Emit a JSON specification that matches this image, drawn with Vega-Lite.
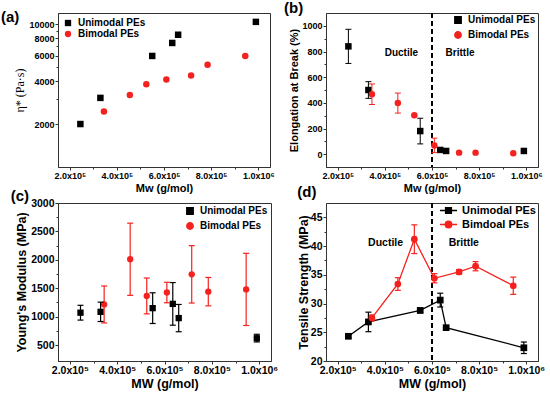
{
  "$schema": "https://vega.github.io/schema/vega-lite/v6.json",
  "background": "white",
  "padding": {"left": 0, "top": 0, "right": 4, "bottom": 2},
  "datasets": {
    "visc": [
      {"mw": 245000, "val": 2000, "type": "Unimodal PEs"},
      {"mw": 330000, "val": 3050, "type": "Unimodal PEs"},
      {"mw": 550000, "val": 6000, "type": "Unimodal PEs"},
      {"mw": 635000, "val": 7400, "type": "Unimodal PEs"},
      {"mw": 660000, "val": 8450, "type": "Unimodal PEs"},
      {"mw": 990000, "val": 10400, "type": "Unimodal PEs"},
      {"mw": 345000, "val": 2450, "type": "Bimodal PEs"},
      {"mw": 455000, "val": 3200, "type": "Bimodal PEs"},
      {"mw": 525000, "val": 3800, "type": "Bimodal PEs"},
      {"mw": 610000, "val": 4100, "type": "Bimodal PEs"},
      {"mw": 715000, "val": 4370, "type": "Bimodal PEs"},
      {"mw": 785000, "val": 5200, "type": "Bimodal PEs"},
      {"mw": 945000, "val": 6000, "type": "Bimodal PEs"}
    ],
    "elong": [
      {"mw": 245000, "val": 840, "lo": 707, "hi": 973, "type": "Unimodal PEs"},
      {"mw": 330000, "val": 500, "lo": 435, "hi": 565, "type": "Unimodal PEs"},
      {"mw": 550000, "val": 180, "lo": 80, "hi": 280, "type": "Unimodal PEs"},
      {"mw": 635000, "val": 33, "lo": null, "hi": null, "type": "Unimodal PEs"},
      {"mw": 660000, "val": 25, "lo": null, "hi": null, "type": "Unimodal PEs"},
      {"mw": 990000, "val": 25, "lo": null, "hi": null, "type": "Unimodal PEs"},
      {"mw": 345000, "val": 467, "lo": 387, "hi": 547, "type": "Bimodal PEs"},
      {"mw": 455000, "val": 398, "lo": 320, "hi": 476, "type": "Bimodal PEs"},
      {"mw": 525000, "val": 303, "lo": null, "hi": null, "type": "Bimodal PEs"},
      {"mw": 610000, "val": 68, "lo": 12, "hi": 125, "type": "Bimodal PEs"},
      {"mw": 715000, "val": 12, "lo": null, "hi": null, "type": "Bimodal PEs"},
      {"mw": 785000, "val": 12, "lo": null, "hi": null, "type": "Bimodal PEs"},
      {"mw": 945000, "val": 8, "lo": null, "hi": null, "type": "Bimodal PEs"}
    ],
    "modulus": [
      {"mw": 245000, "val": 1070, "lo": 940, "hi": 1200, "type": "Unimodal PEs"},
      {"mw": 330000, "val": 1085, "lo": 915, "hi": 1255, "type": "Unimodal PEs"},
      {"mw": 550000, "val": 1150, "lo": 880, "hi": 1420, "type": "Unimodal PEs"},
      {"mw": 635000, "val": 1225, "lo": 850, "hi": 1600, "type": "Unimodal PEs"},
      {"mw": 660000, "val": 975, "lo": 735, "hi": 1215, "type": "Unimodal PEs"},
      {"mw": 990000, "val": 620, "lo": 555, "hi": 690, "type": "Unimodal PEs"},
      {"mw": 345000, "val": 1215, "lo": 890, "hi": 1540, "type": "Bimodal PEs"},
      {"mw": 455000, "val": 2010, "lo": 1375, "hi": 2645, "type": "Bimodal PEs"},
      {"mw": 525000, "val": 1365, "lo": 1050, "hi": 1680, "type": "Bimodal PEs"},
      {"mw": 610000, "val": 1425, "lo": 1245, "hi": 1605, "type": "Bimodal PEs"},
      {"mw": 715000, "val": 1745, "lo": 1240, "hi": 2250, "type": "Bimodal PEs"},
      {"mw": 785000, "val": 1440, "lo": 1190, "hi": 1690, "type": "Bimodal PEs"},
      {"mw": 945000, "val": 1480, "lo": 845, "hi": 2115, "type": "Bimodal PEs"}
    ],
    "tensile": [
      {"mw": 245000, "val": 24.3, "lo": 24.0, "hi": 24.6, "type": "Unimodal PEs"},
      {"mw": 330000, "val": 26.8, "lo": 25.1, "hi": 28.5, "type": "Unimodal PEs"},
      {"mw": 550000, "val": 28.8, "lo": 28.4, "hi": 29.2, "type": "Unimodal PEs"},
      {"mw": 635000, "val": 30.6, "lo": 29.4, "hi": 31.8, "type": "Unimodal PEs"},
      {"mw": 660000, "val": 25.8, "lo": null, "hi": null, "type": "Unimodal PEs"},
      {"mw": 990000, "val": 22.3, "lo": 21.3, "hi": 23.3, "type": "Unimodal PEs"},
      {"mw": 345000, "val": 27.5, "lo": 27.0, "hi": 28.0, "type": "Bimdoal PEs"},
      {"mw": 455000, "val": 33.4, "lo": 32.3, "hi": 34.5, "type": "Bimdoal PEs"},
      {"mw": 525000, "val": 41.2, "lo": 38.7, "hi": 43.7, "type": "Bimdoal PEs"},
      {"mw": 610000, "val": 34.4, "lo": 33.6, "hi": 35.2, "type": "Bimdoal PEs"},
      {"mw": 715000, "val": 35.5, "lo": 35.1, "hi": 35.9, "type": "Bimdoal PEs"},
      {"mw": 785000, "val": 36.5, "lo": 35.7, "hi": 37.3, "type": "Bimdoal PEs"},
      {"mw": 945000, "val": 33.1, "lo": 31.6, "hi": 34.6, "type": "Bimdoal PEs"}
    ],
    "notes_b": [
      {"label": "Ductile", "mw": 470000, "val": 790},
      {"label": "Brittle", "mw": 719000, "val": 790}
    ],
    "notes_d": [
      {"label": "Ductile", "mw": 403000, "val": 40.6},
      {"label": "Brittle", "mw": 735000, "val": 40.6}
    ]
  },
  "columns": 2,
  "spacing": {"row": -10, "column": 4},
  "concat": [
    {
      "width": 212, "height": 154,
      "title": {"text": "(a)", "anchor": "start", "frame": "bounds", "offset": -12, "dx": -13},
      "layer": [
        {"layer": [
          {"data": {"name": "visc"},
           "mark": {"type": "point", "filled": true, "opacity": 1, "size": 42},
           "encoding": {
             "x": {"field": "mw", "type": "quantitative", "scale": {"domain": [150000, 1050000], "nice": false, "zero": false},
                   "axis": {"values": [200000, 400000, 600000, 800000, 1000000], "tickCount": 20, "labelExpr": "datum.value >= 1000000 ? '1.0x10⁶' : format(datum.value / 100000, '.1f') + 'x10⁵'", "title": "Mw (g/mol)", "labelFontSize": 9, "titleFontSize": 11}},
             "y": {"field": "val", "type": "quantitative", "scale": {"type": "log", "domain": [1000, 12000], "nice": false},
                   "axis": {"values": [2000, 4000, 6000, 8000, 10000], "tickCount": 20, "format": "d", "title": "η* (Pa·s)", "titleFont": "Liberation Serif", "titleFontWeight": "normal", "titleFontSize": 12, "labelFontSize": 9}},
             "color": {"field": "type", "type": "nominal", "scale": {"domain": ["Unimodal PEs", "Bimodal PEs"], "range": ["black", "#f4221f"]},
                       "legend": {"title": null, "orient": "top-left", "offset": 5, "labelFontSize": 10}},
             "shape": {"field": "type", "type": "nominal", "scale": {"domain": ["Unimodal PEs", "Bimodal PEs"], "range": ["square", "circle"]},
                       "legend": {"title": null, "orient": "top-left", "offset": 5, "labelFontSize": 10}}
           }}
        ]},
        {"data": {"name": "visc"}, "mark": {"type": "point", "opacity": 0},
         "encoding": {
           "x": {"field": "mw", "type": "quantitative", "axis": {"orient": "bottom", "values": [300000, 500000, 700000, 900000], "tickCount": 20, "labels": false, "domain": false, "tickSize": 2, "title": null}},
           "y": {"field": "val", "type": "quantitative", "axis": {"orient": "left", "values": [3000, 5000, 7000, 9000], "tickCount": 20, "labels": false, "domain": false, "tickSize": 2, "title": null}}
         }}
      ],
      "resolve": {"axis": {"x": "independent", "y": "independent"}}
    },
    {
      "width": 212, "height": 154,
      "title": {"text": "(b)", "anchor": "start", "frame": "bounds", "offset": -4, "dx": -5},
      "layer": [
        {"layer": [
          {"data": {"name": "elong"}, "mark": {"type": "rule", "color": "black", "strokeDash": [5, 3], "strokeWidth": 1.3},
           "encoding": {"x": {"datum": 600000}}},
          {"data": {"name": "notes_b"}, "mark": {"type": "text", "font": "Liberation Sans", "fontWeight": "bold", "fontSize": 10, "color": "black"},
           "encoding": {"x": {"field": "mw", "type": "quantitative"}, "y": {"field": "val", "type": "quantitative"}, "text": {"field": "label"}}},
          {"data": {"name": "elong"},
           "mark": {"type": "point", "filled": true, "opacity": 1, "size": 42},
           "encoding": {
             "x": {"field": "mw", "type": "quantitative", "scale": {"domain": [150000, 1050000], "nice": false, "zero": false},
                   "axis": {"values": [200000, 400000, 600000, 800000, 1000000], "tickCount": 20, "labelExpr": "datum.value >= 1000000 ? '1.0x10⁶' : format(datum.value / 100000, '.1f') + 'x10⁵'", "title": "Mw (g/mol)", "labelFontSize": 9, "titleFontSize": 11}},
             "y": {"field": "val", "type": "quantitative", "scale": {"domain": [-100, 1100], "nice": false, "zero": false},
                   "axis": {"values": [0, 200, 400, 600, 800, 1000], "tickCount": 20, "format": "d", "title": "Elongation at Break (%)", "titleFontSize": 11, "labelFontSize": 9}},
             "color": {"field": "type", "type": "nominal", "scale": {"domain": ["Unimodal PEs", "Bimodal PEs"], "range": ["black", "#f4221f"]},
                       "legend": {"title": null, "orient": "top-right", "offset": 2, "labelFontSize": 10}},
             "shape": {"field": "type", "type": "nominal", "scale": {"domain": ["Unimodal PEs", "Bimodal PEs"], "range": ["square", "circle"]},
                       "legend": {"title": null, "orient": "top-right", "offset": 2, "labelFontSize": 10}}
           }},
          {"data": {"name": "elong"}, "mark": {"type": "rule", "strokeWidth": 1, "opacity": 1},
           "encoding": {"x": {"field": "mw", "type": "quantitative"}, "y": {"field": "lo", "type": "quantitative"}, "y2": {"field": "hi"}, "color": {"field": "type", "type": "nominal"}}},
          {"data": {"name": "elong"}, "mark": {"type": "tick", "orient": "horizontal", "size": 6, "thickness": 1, "opacity": 1},
           "encoding": {"x": {"field": "mw", "type": "quantitative"}, "y": {"field": "lo", "type": "quantitative"}, "color": {"field": "type", "type": "nominal"}}},
          {"data": {"name": "elong"}, "mark": {"type": "tick", "orient": "horizontal", "size": 6, "thickness": 1, "opacity": 1},
           "encoding": {"x": {"field": "mw", "type": "quantitative"}, "y": {"field": "hi", "type": "quantitative"}, "color": {"field": "type", "type": "nominal"}}}
        ]},
        {"data": {"name": "elong"}, "mark": {"type": "point", "opacity": 0},
         "encoding": {
           "x": {"field": "mw", "type": "quantitative", "axis": {"orient": "bottom", "values": [300000, 500000, 700000, 900000], "tickCount": 20, "labels": false, "domain": false, "tickSize": 2, "title": null}},
           "y": {"field": "val", "type": "quantitative", "axis": {"orient": "left", "values": [100, 300, 500, 700, 900], "tickCount": 20, "labels": false, "domain": false, "tickSize": 2, "title": null}}
         }}
      ],
      "resolve": {"axis": {"x": "independent", "y": "independent"}}
    },
    {
      "width": 213, "height": 158,
      "title": {"text": "(c)", "anchor": "start", "frame": "bounds", "offset": -6, "dx": -5},
      "layer": [
        {"layer": [
          {"data": {"name": "modulus"},
           "mark": {"type": "point", "filled": true, "opacity": 1, "size": 40},
           "encoding": {
             "x": {"field": "mw", "type": "quantitative", "scale": {"domain": [150000, 1050000], "nice": false, "zero": false},
                   "axis": {"values": [200000, 400000, 600000, 800000, 1000000], "tickCount": 20, "labelExpr": "datum.value >= 1000000 ? '1.0x10⁶' : format(datum.value / 100000, '.1f') + 'x10⁵'", "title": "MW (g/mol)", "labelFontSize": 10.5, "titleFontSize": 12.5}},
             "y": {"field": "val", "type": "quantitative", "scale": {"domain": [220, 3000], "nice": false, "zero": false},
                   "axis": {"values": [500, 1000, 1500, 2000, 2500, 3000], "tickCount": 20, "format": "d", "title": "Young's Modulus (MPa)", "titleFontSize": 12.5, "labelFontSize": 10.5}},
             "color": {"field": "type", "type": "nominal", "scale": {"domain": ["Unimodal PEs", "Bimodal PEs"], "range": ["black", "#f4221f"]},
                       "legend": {"title": null, "orient": "top-right", "offset": 3, "labelFontSize": 10}},
             "shape": {"field": "type", "type": "nominal", "scale": {"domain": ["Unimodal PEs", "Bimodal PEs"], "range": ["square", "circle"]},
                       "legend": {"title": null, "orient": "top-right", "offset": 3, "labelFontSize": 10}}
           }},
          {"data": {"name": "modulus"}, "mark": {"type": "rule", "strokeWidth": 1.2, "opacity": 1},
           "encoding": {"x": {"field": "mw", "type": "quantitative"}, "y": {"field": "lo", "type": "quantitative"}, "y2": {"field": "hi"}, "color": {"field": "type", "type": "nominal"}}},
          {"data": {"name": "modulus"}, "mark": {"type": "tick", "orient": "horizontal", "size": 6, "thickness": 1.2, "opacity": 1},
           "encoding": {"x": {"field": "mw", "type": "quantitative"}, "y": {"field": "lo", "type": "quantitative"}, "color": {"field": "type", "type": "nominal"}}},
          {"data": {"name": "modulus"}, "mark": {"type": "tick", "orient": "horizontal", "size": 6, "thickness": 1.2, "opacity": 1},
           "encoding": {"x": {"field": "mw", "type": "quantitative"}, "y": {"field": "hi", "type": "quantitative"}, "color": {"field": "type", "type": "nominal"}}}
        ]},
        {"data": {"name": "modulus"}, "mark": {"type": "point", "opacity": 0},
         "encoding": {
           "x": {"field": "mw", "type": "quantitative", "axis": {"orient": "bottom", "values": [300000, 500000, 700000, 900000], "tickCount": 20, "labels": false, "domain": false, "tickSize": 2, "title": null}},
           "y": {"field": "val", "type": "quantitative", "axis": {"orient": "left", "values": [750, 1250, 1750, 2250, 2750], "tickCount": 20, "labels": false, "domain": false, "tickSize": 2, "title": null}}
         }}
      ],
      "resolve": {"axis": {"x": "independent", "y": "independent"}}
    },
    {
      "width": 212, "height": 158,
      "title": {"text": "(d)", "anchor": "start", "frame": "bounds", "offset": 2, "dx": 0},
      "layer": [
        {"layer": [
          {"data": {"name": "tensile"}, "mark": {"type": "rule", "color": "black", "strokeDash": [5, 3], "strokeWidth": 1.3},
           "encoding": {"x": {"datum": 600000}}},
          {"data": {"name": "notes_d"}, "mark": {"type": "text", "font": "Liberation Sans", "fontWeight": "bold", "fontSize": 10.5, "color": "black"},
           "encoding": {"x": {"field": "mw", "type": "quantitative"}, "y": {"field": "val", "type": "quantitative"}, "text": {"field": "label"}}},
          {"data": {"name": "tensile"}, "transform": [{"filter": "datum.mw < 0"}],
           "mark": {"type": "point", "filled": true, "opacity": 1, "size": 45, "strokeWidth": 1.3},
           "encoding": {
             "x": {"field": "mw", "type": "quantitative", "scale": {"domain": [150000, 1050000], "nice": false, "zero": false},
                   "axis": {"values": [200000, 400000, 600000, 800000, 1000000], "tickCount": 20, "labelExpr": "datum.value >= 1000000 ? '1.0x10⁶' : format(datum.value / 100000, '.1f') + 'x10⁵'", "title": "MW (g/mol)", "labelFontSize": 10.5, "titleFontSize": 12.5}},
             "y": {"field": "val", "type": "quantitative", "scale": {"domain": [20, 47.5], "nice": false, "zero": false},
                   "axis": {"values": [20, 25, 30, 35, 40, 45], "tickCount": 20, "format": "d", "title": "Tensile Strength (MPa)", "titleFontSize": 12.5, "labelFontSize": 10.5, "titlePadding": 0}},
             "color": {"field": "type", "type": "nominal", "scale": {"domain": ["Unimodal PEs", "Bimdoal PEs"], "range": ["black", "#f4221f"]},
                       "legend": {"title": null, "orient": "top-right", "offset": 2, "labelFontSize": 11, "labelOffset": 8}},
             "stroke": {"field": "type", "type": "nominal", "scale": {"domain": ["Unimodal PEs", "Bimdoal PEs"], "range": ["black", "#f4221f"]},
                       "legend": {"title": null, "orient": "top-right", "offset": 2, "labelFontSize": 11, "labelOffset": 8}},
             "shape": {"field": "type", "type": "nominal", "scale": {"domain": ["Unimodal PEs", "Bimdoal PEs"], "range": ["M-2.7,0H-0.9M0.9,0H2.7M-0.9,-0.9H0.9V0.9H-0.9Z", "M-2.7,0H-1M1,0H2.7M1,0A1,1,0,1,1,-1,0A1,1,0,1,1,1,0Z"]},
                       "legend": {"title": null, "orient": "top-right", "offset": 2, "labelFontSize": 11, "labelOffset": 8}}
           }},
          {"data": {"name": "tensile"}, "mark": {"type": "line", "strokeWidth": 1.3},
           "encoding": {"x": {"field": "mw", "type": "quantitative"}, "y": {"field": "val", "type": "quantitative"}, "color": {"field": "type", "type": "nominal"}, "order": {"field": "mw"}}},
          {"data": {"name": "tensile"}, "mark": {"type": "rule", "strokeWidth": 1.2, "opacity": 1},
           "encoding": {"x": {"field": "mw", "type": "quantitative"}, "y": {"field": "lo", "type": "quantitative"}, "y2": {"field": "hi"}, "color": {"field": "type", "type": "nominal"}}},
          {"data": {"name": "tensile"}, "mark": {"type": "tick", "orient": "horizontal", "size": 6, "thickness": 1.2, "opacity": 1},
           "encoding": {"x": {"field": "mw", "type": "quantitative"}, "y": {"field": "lo", "type": "quantitative"}, "color": {"field": "type", "type": "nominal"}}},
          {"data": {"name": "tensile"}, "mark": {"type": "tick", "orient": "horizontal", "size": 6, "thickness": 1.2, "opacity": 1},
           "encoding": {"x": {"field": "mw", "type": "quantitative"}, "y": {"field": "hi", "type": "quantitative"}, "color": {"field": "type", "type": "nominal"}}},
          {"data": {"name": "tensile"}, "transform": [{"filter": "datum.type === 'Unimodal PEs'"}],
           "mark": {"type": "point", "filled": true, "opacity": 1, "size": 45, "shape": "square"},
           "encoding": {"x": {"field": "mw", "type": "quantitative"}, "y": {"field": "val", "type": "quantitative"}, "color": {"field": "type", "type": "nominal"}}},
          {"data": {"name": "tensile"}, "transform": [{"filter": "datum.type !== 'Unimodal PEs'"}],
           "mark": {"type": "point", "filled": true, "opacity": 1, "size": 45, "shape": "circle"},
           "encoding": {"x": {"field": "mw", "type": "quantitative"}, "y": {"field": "val", "type": "quantitative"}, "color": {"field": "type", "type": "nominal"}}}
        ]},
        {"data": {"name": "tensile"}, "mark": {"type": "point", "opacity": 0},
         "encoding": {
           "x": {"field": "mw", "type": "quantitative", "axis": {"orient": "bottom", "values": [300000, 500000, 700000, 900000], "tickCount": 20, "labels": false, "domain": false, "tickSize": 2, "title": null}},
           "y": {"field": "val", "type": "quantitative", "axis": {"orient": "left", "values": [22.5, 27.5, 32.5, 37.5, 42.5], "tickCount": 20, "labels": false, "domain": false, "tickSize": 2, "title": null}}
         }}
      ],
      "resolve": {"axis": {"x": "independent", "y": "independent"}}
    }
  ],
  "resolve": {"scale": {"color": "independent", "shape": "independent", "stroke": "independent"}, "legend": {"color": "independent", "shape": "independent", "stroke": "independent"}},
  "config": {
    "font": "Liberation Sans",
    "view": {"stroke": "#333", "strokeWidth": 1},
    "title": {"font": "Liberation Sans", "fontSize": 15, "fontWeight": "bold", "color": "black"},
    "axis": {"labelFont": "Liberation Sans", "labelFontWeight": "bold", "titleFont": "Liberation Sans", "titleFontWeight": "bold",
             "domainColor": "#333", "tickColor": "#333", "labelColor": "black", "titleColor": "black", "grid": false,
             "tickSize": 3, "labelPadding": 1, "titlePadding": 2, "labelOverlap": false},
    "legend": {"labelFont": "Liberation Sans", "labelFontWeight": "bold", "labelColor": "black", "rowPadding": 1, "symbolSize": 40, "labelOffset": 5, "padding": 0}
  }
}
